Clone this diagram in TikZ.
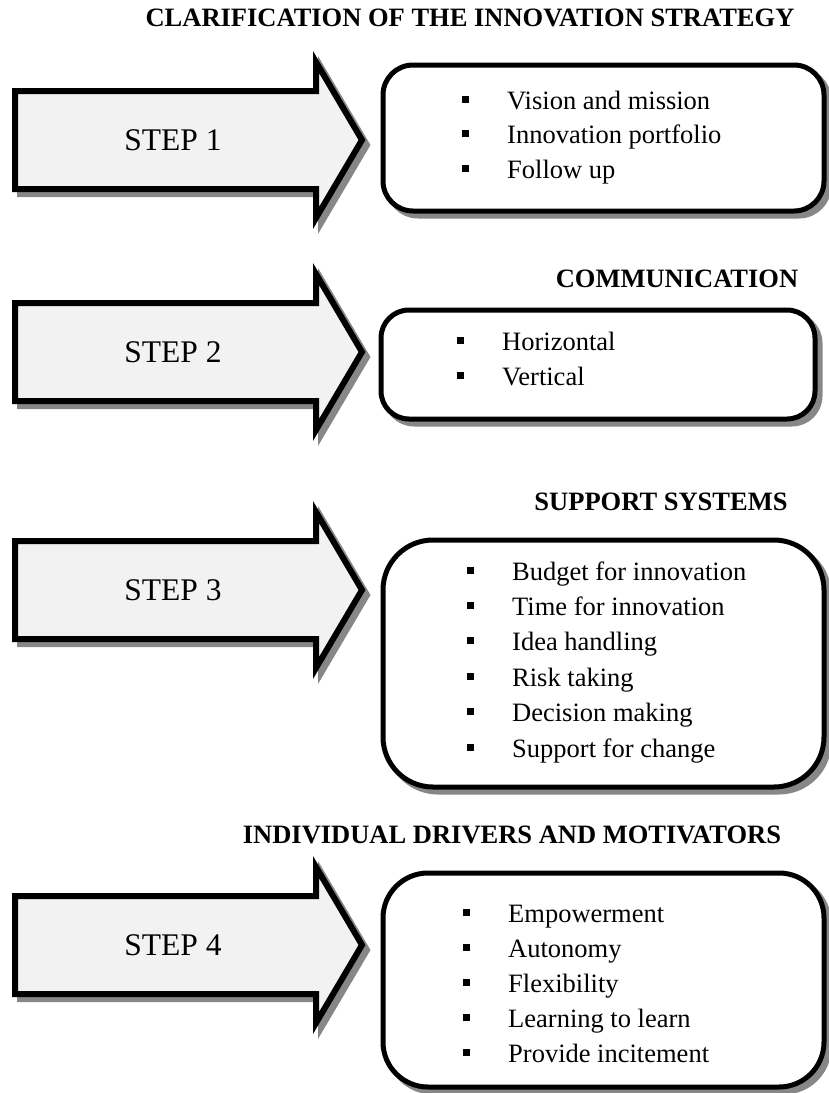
\documentclass[tikz,border=0pt]{standalone}
\usepackage{fontspec}
\setmainfont{Liberation Serif}
\definecolor{arrowgray}{gray}{0.95}
\definecolor{shadowgray}{gray}{0.53}
\newcommand{\sqbullet}{\makebox[45pt][l]{\rule[6.5pt]{7pt}{7pt}}}

\begin{document}
\begin{tikzpicture}[x=1pt, y=-1pt,
    arrowpath/.style={insert path={(15,#1-49) -- (316,#1-49) -- (316,#1-78) -- (362,#1) -- (316,#1+78) -- (316,#1+49) -- (15,#1+49) -- cycle}},
    steparrow/.style={draw, line width=6pt, fill=arrowgray, miter limit=10},
    stepshadow/.style={draw=shadowgray, fill=shadowgray, line width=6pt, miter limit=10, shift={(5,5)}},
    listbox/.style={draw, line width=5pt, fill=white, rounded corners=#1},
    boxshadow/.style={draw=shadowgray, fill=shadowgray, line width=5pt, rounded corners=#1, shift={(5,5)}},
    steplabel/.style={font=\fontsize{31.5}{38}\selectfont},
    heading/.style={font=\fontsize{26.5}{32}\selectfont\bfseries},
    item/.style={anchor=base west, inner sep=0pt, font=\fontsize{26.5}{32}\selectfont}]
    \useasboundingbox (0,0) rectangle (829,1093);

    % step arrows
    \foreach \c/\n in {140/1, 352/2, 590/3, 945/4}{
        \draw[stepshadow, arrowpath=\c];
        \draw[steparrow, arrowpath=\c];
        \node[steplabel] (step\n) at (173,\c) {STEP \n};
    }

    % boxes
    \draw[boxshadow=30pt] (383,65) rectangle (824,211);
    \draw[listbox=30pt] (383,65) rectangle (824,211);
    \draw[boxshadow=28pt] (381,310) rectangle (815,419);
    \draw[listbox=28pt] (381,310) rectangle (815,419);
    \draw[boxshadow=50pt] (383,540) rectangle (824,787);
    \draw[listbox=50pt] (383,540) rectangle (824,787);
    \draw[boxshadow=45pt] (383,873) rectangle (824,1087);
    \draw[listbox=45pt] (383,873) rectangle (824,1087);

    % headings
    \node[heading] (clar) at (470,18) {CLARIFICATION OF THE INNOVATION STRATEGY};
    \node[heading] (comm) at (677,279) {COMMUNICATION};
    \node[heading] (supp) at (661,502) {SUPPORT SYSTEMS};
    \node[heading] (indiv) at (512,835) {INDIVIDUAL DRIVERS AND MOTIVATORS};

    % lists
    \foreach \t [count=\i] in {Vision and mission, Innovation portfolio, Follow up}
        \node[item] (clar\i) at (462,{109+(\i-1)*34.5}) {\sqbullet\t};
    \foreach \t [count=\i] in {Horizontal, Vertical}
        \node[item] (comm\i) at (457,{350+(\i-1)*35}) {\sqbullet\t};
    \foreach \t [count=\i] in {Budget for innovation, Time for innovation, Idea handling, Risk taking, Decision making, Support for change}
        \node[item] (supp\i) at (467,{580+(\i-1)*35.4}) {\sqbullet\t};
    \foreach \t [count=\i] in {Empowerment, Autonomy, Flexibility, Learning to learn, Provide incitement}
        \node[item] (indiv\i) at (463,{922+(\i-1)*35}) {\sqbullet\t};
\end{tikzpicture}
\end{document}
